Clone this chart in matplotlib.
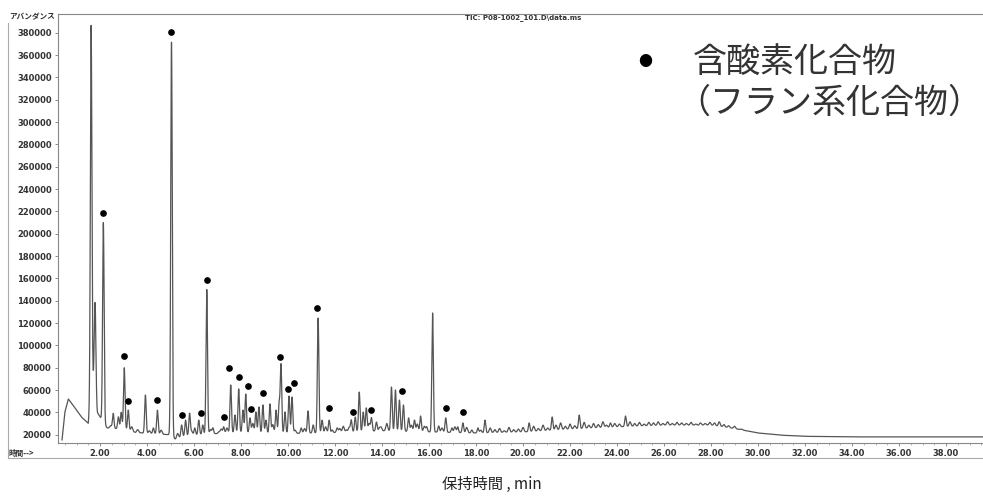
import numpy as np
import matplotlib.pyplot as plt
from matplotlib.lines import Line2D

plt.rcParams['font.family'] = ['Noto Sans CJK JP', 'DejaVu Sans']

# baseline of the TIC trace (retention time in min, abundance)
base_t = [0.2, 0.38, 0.5, 0.65, 0.9, 1.2, 1.5, 1.62, 1.75, 1.88, 2.0, 2.3, 3.0, 3.5, 4.5, 4.95,
          5.2, 5.6, 6.5, 8.0, 10.0, 12.0, 14.0, 16.0, 18.0, 20.0, 22.0, 24.0, 26.0, 28.0, 29.0,
          30.0, 31.0, 32.0, 34.0, 39.8]
base_v = [13000, 15000, 40000, 52000, 45000, 36000, 30000, 60000, 72000, 40000, 36000, 26000,
          25000, 22000, 20500, 20000, 16000, 19000, 20500, 22000, 21000, 22000, 23500, 22500,
          21500, 22400, 25000, 27000, 28500, 28500, 25500, 21500, 19500, 18500, 18000, 18000]

# main peak apexes
peak_t = [1.62, 1.79, 2.14, 2.56, 2.78, 2.9, 3.03, 3.2, 3.93, 4.27, 4.44, 5.04, 5.47, 5.64,
          5.81, 6.03, 6.2, 6.37, 6.54, 6.8, 7.05, 7.26, 7.56, 7.74, 7.9, 8.08, 8.2, 8.38,
          8.63, 8.76, 8.93, 9.06, 9.23, 9.49, 9.62, 9.7, 9.87, 10.04, 10.17, 10.56, 10.85,
          11.07, 11.28, 11.45, 11.75, 11.88, 12.09, 12.48, 12.69, 12.86, 13.03, 13.2, 13.33,
          13.55, 13.76, 13.97, 14.4, 14.57, 14.74, 14.91, 15.13, 15.38, 15.64, 15.9, 16.15,
          16.41, 16.71, 16.97, 17.22, 17.44, 17.82, 18.08, 18.38, 20.26, 21.24, 22.39, 23.72,
          24.36]
peak_v = [387000, 138000, 210000, 39000, 36000, 40000, 80000, 42000, 55500, 26000, 42000,
          372000, 28700, 33000, 39000, 26000, 33000, 28700, 150000, 26000, 22400, 27000,
          64500, 37600, 61000, 42000, 56400, 35000, 40300, 44800, 46600, 33000, 47500, 42000,
          47500, 82400, 40300, 54600, 53700, 26000, 41200, 28700, 124500, 33000, 33000, 24200,
          26000, 24200, 33000, 35800, 58200, 40300, 43900, 35000, 31300, 26000, 62700, 60000,
          51000, 46600, 35000, 33000, 36700, 27000, 129000, 27800, 35000, 26000, 27000, 30500,
          24200, 26000, 33000, 30500, 35800, 37600, 30500, 36700]

# small "grass" peaks between and after the main peaks
grass_t = [2.45, 3.35, 3.6, 4.1, 4.6, 5.3, 5.9, 6.7, 7.15, 7.4, 8.5, 9.35, 10.3, 10.7, 11.6,
           12.2, 12.35, 12.6, 13.45, 13.9, 14.2, 15.25, 15.5, 15.8, 16.55, 17.1, 17.6, 18.2,
           18.6, 18.8, 19.0, 19.2, 19.4, 19.6, 19.8, 20.0, 20.45, 20.65, 20.85, 21.05, 21.4,
           21.6, 21.8, 22.0, 22.2, 22.6, 22.8, 23.0, 23.2, 23.4, 23.55, 23.9, 24.1, 24.55,
           24.75, 24.95, 25.15, 25.35, 25.55, 25.75, 25.95, 26.15, 26.35, 26.55, 26.75, 26.95,
           27.15, 27.35, 27.55, 27.75, 27.95, 28.15, 28.35, 28.55, 28.75, 29.0, 29.3, 29.6]
grass_v = [28000, 27000, 24500, 23500, 24000, 21000, 23000, 24500, 25000, 26000, 30000, 29000,
           24000, 25500, 27000, 25500, 27500, 26500, 30000, 26500, 30000, 28500, 29500, 27500,
           26000, 27000, 26500, 24000, 26000, 24500, 25500, 23500, 26500, 24500, 25000, 26500,
           27500, 25500, 28500, 26000, 28500, 30500, 27500, 29500, 28000, 31000, 28500, 30000,
           29000, 31500, 28500, 30000, 29500, 31500, 30000, 31000, 29500, 31000, 30500, 31500,
           30000, 31500, 30000, 31000, 30500, 30000, 31000, 29500, 30500, 30000, 31000, 30500,
           31500, 29000, 28000, 27500, 25000, 23000]

# oxygenated (furan) compound markers
dot_t = [2.14, 3.03, 3.21, 4.44, 5.04, 5.47, 6.28, 6.54, 7.26, 7.48, 7.91, 8.29, 8.42, 8.93,
         9.66, 10.0, 10.26, 11.24, 11.75, 12.78, 13.55, 14.83, 16.71, 17.44]
dot_v = [218500, 90500, 50200, 51000, 380600, 37600, 39400, 158500, 35800, 79700, 71600,
         63600, 43000, 57300, 89600, 60900, 66300, 133400, 43900, 40300, 42100, 59100,
         43900, 40300]

yticks = list(range(20000, 380001, 20000))
xticks = list(range(2, 39, 2))

t = np.linspace(0.2, 39.8, 12000)
trace = np.interp(t, base_t, base_v)
for pts, pvs, sig in [(peak_t, peak_v, 0.032), (grass_t, grass_v, 0.04)]:
    for pt, pv in zip(pts, pvs):
        amp = pv - np.interp(pt, base_t, base_v)
        trace = trace + amp * np.exp(-0.5 * ((t - pt) / sig) ** 2)
trace[t < 0.38] = np.nan

fig = plt.figure(figsize=(9.83, 5.01), dpi=100)
ax = fig.add_axes([0.059, 0.1158, 0.945, 0.856])
ax.plot(t, trace, color='#555555', lw=0.9)
ax.plot(dot_t, dot_v, 'o', color='black', ms=3.8)

ax.set_xlim(0.21, 39.74)
ax.set_ylim(12540, 396750)
ax.set_yticks(yticks)
ax.set_yticklabels([str(v) for v in yticks], fontsize=6, fontweight='bold',
                   color='#333333', family='DejaVu Sans')
ax.set_xticks(xticks)
ax.set_xticklabels(['%.2f' % v for v in xticks], fontsize=6, fontweight='bold',
                   color='#333333', family='DejaVu Sans')
ax.set_xticks(np.arange(0.5, 39.6, 0.5), minor=True)
ax.tick_params(axis='both', which='major', length=2.5, width=0.6, color='#777777', pad=2)
ax.tick_params(axis='x', which='minor', length=1.5, width=0.5, color='#999999')
for side in ['left', 'bottom', 'top']:
    ax.spines[side].set_color('#888888')
    ax.spines[side].set_linewidth(0.8)
ax.spines['right'].set_visible(False)

fig.text(0.009, 0.962, 'アバンダンス', fontsize=5.5, fontweight='bold', color='#333333')
fig.text(0.009, 0.09, '時間-->', fontsize=5.5, fontweight='bold', color='#333333')
fig.text(0.532, 0.962, 'TIC: P08-1002_101.D\\data.ms', fontsize=5, fontweight='bold',
         color='#333333', ha='center', family='DejaVu Sans')

# outer frame
fig.add_artist(Line2D([0.008, 0.008], [0.085, 0.955], transform=fig.transFigure,
                      color='#aaaaaa', lw=0.8))
fig.add_artist(Line2D([0.008, 1.0], [0.085, 0.085], transform=fig.transFigure,
                      color='#aaaaaa', lw=0.8))

# legend text
fig.text(0.656, 0.876, '●', fontsize=10, color='black', ha='center', va='center')
fig.text(0.705, 0.876, '含酸素化合物', fontsize=24.5, color='#333333', va='center')
fig.text(0.688, 0.793, '（フラン系化合物）', fontsize=24.5, color='#333333', va='center')

fig.text(0.5, 0.032, '保持時間 , min', fontsize=11, color='#222222', ha='center', va='center')

fig.savefig('out.png', dpi=100)
